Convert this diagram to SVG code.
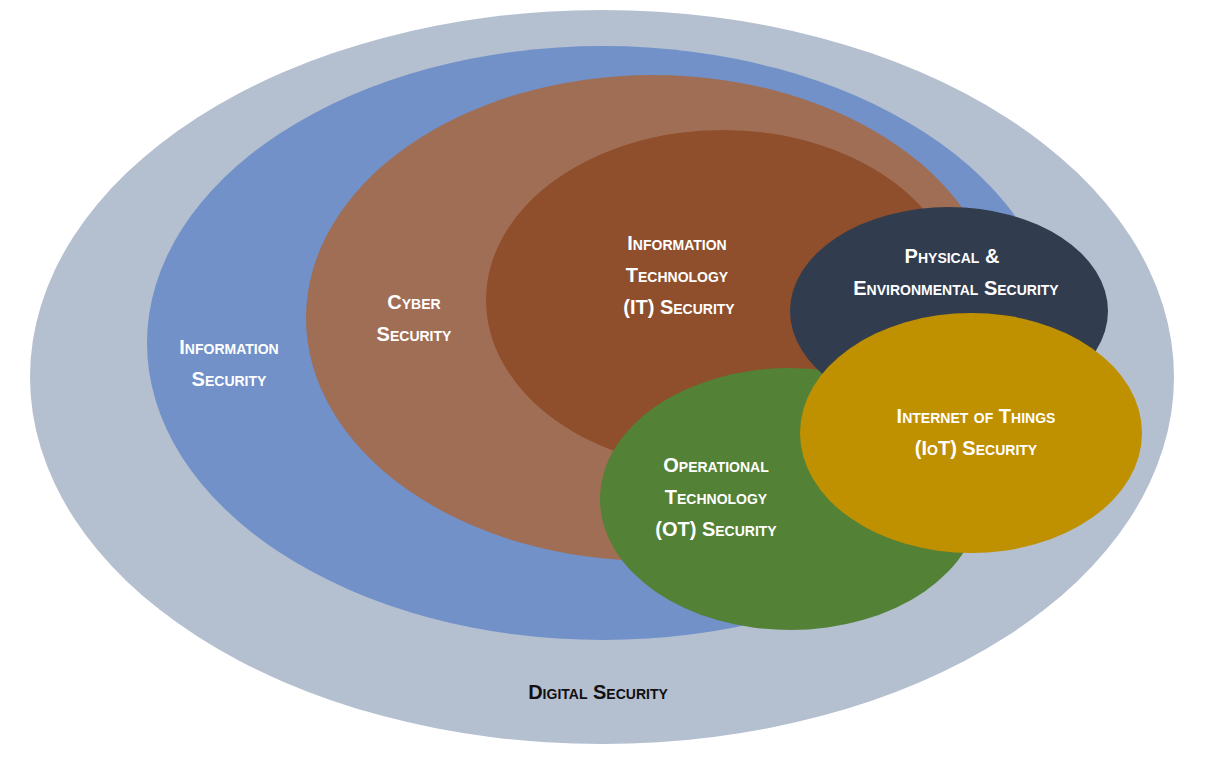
<svg xmlns="http://www.w3.org/2000/svg" width="1206" height="758" viewBox="0 0 1206 758">
<style>
text{font-family:"Liberation Sans",Arial,sans-serif;font-weight:bold;font-variant:small-caps;font-size:20px;text-anchor:middle;fill:#fff}
.dk{fill:#111}
</style>
<rect width="1206" height="758" fill="#fff"/>
<g id="digital"><ellipse cx="602" cy="377" rx="572" ry="367" fill="#b4bfd0"/></g>
<g id="infosec"><ellipse cx="603" cy="343" rx="456" ry="297" fill="#7191c8"/></g>
<g id="cyber"><ellipse cx="653" cy="318" rx="347" ry="243" fill="#a06e55"/></g>
<g id="it"><ellipse cx="723" cy="300" rx="237" ry="170" fill="#8f4f2c"/></g>
<g id="ot"><ellipse cx="790" cy="499" rx="190" ry="131" fill="#538135"/></g>
<g id="phys"><ellipse cx="949" cy="311" rx="159" ry="104" fill="#323c4f"/></g>
<g id="iot"><ellipse cx="971" cy="433" rx="171" ry="120" fill="#bf9000"/></g>
<g id="labels">
<text x="229" y="354">Information</text><text x="229" y="386">Security</text>
<text x="414" y="309">Cyber</text><text x="414" y="341">Security</text>
<text x="677" y="250">Information</text><text x="677" y="282">Technology</text><text x="679" y="314">(IT) Security</text>
<text x="952" y="263">Physical &amp;</text><text x="956" y="295">Environmental Security</text>
<text x="976" y="423">Internet of Things</text><text x="976" y="455">(IoT) Security</text>
<text x="716" y="472">Operational</text><text x="716" y="504">Technology</text><text x="716" y="536">(OT) Security</text>
<text class="dk" x="598" y="699">Digital Security</text>
</g>
<g id="connectors"/>
</svg>
